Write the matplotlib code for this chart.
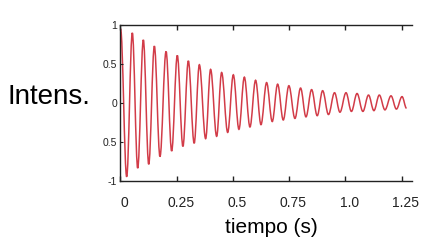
import numpy as np
import matplotlib.pyplot as plt
import matplotlib.transforms as mtransforms
from matplotlib.path import Path
from matplotlib.patches import PathPatch

plt.rcParams['font.family'] = ['Liberation Sans', 'DejaVu Sans']

# extrema of the damped oscillation (time in s, intensity)
t_ext = [0.001, 0.028, 0.053, 0.077, 0.102, 0.126, 0.151, 0.176, 0.203, 0.228,
         0.253, 0.278, 0.302, 0.328, 0.351, 0.379, 0.401, 0.428, 0.450, 0.477,
         0.502, 0.527, 0.551, 0.576, 0.601, 0.625, 0.650, 0.675, 0.699, 0.724,
         0.749, 0.776, 0.801, 0.825, 0.850, 0.875, 0.899, 0.925, 0.952, 0.976,
         1.003, 1.027, 1.052, 1.078, 1.103, 1.127, 1.151, 1.176, 1.203, 1.227,
         1.252, 1.272]
v_ext = [0.95, -0.95, 0.90, -0.84, 0.81, -0.79, 0.73, -0.69, 0.66, -0.62,
         0.61, -0.56, 0.54, -0.52, 0.49, -0.46, 0.43, -0.43, 0.39, -0.38,
         0.36, -0.34, 0.33, -0.31, 0.29, -0.28, 0.26, -0.24, 0.24, -0.22,
         0.22, -0.20, 0.19, -0.18, 0.17, -0.165, 0.156, -0.15, 0.13, -0.12,
         0.13, -0.11, 0.12, -0.11, 0.10, -0.10, 0.10, -0.09, 0.09, -0.08,
         0.08, -0.07]

x_ticks = [0, 0.25, 0.5, 0.75, 1.0, 1.25]
x_labels = ["0", "0.25", "0.5", "0.75", "1.0", "1.25"]
y_ticks = [1, 0.5, 0, -0.5, -1]
y_labels = ["1", "0.5", "0", "0.5", "-1"]

fig = plt.figure(figsize=(4.4, 2.47), dpi=100)
ax = fig.add_axes([0.2736, 0.2684, 0.6621, 0.6304])

# join the extrema with smooth bezier segments (flat tangent at each extremum)
verts = [(t_ext[0], v_ext[0])]
codes = [Path.MOVETO]
for i in range(1, len(t_ext)):
    t0, v0 = t_ext[i - 1], v_ext[i - 1]
    t1, v1 = t_ext[i], v_ext[i]
    d = 0.3634 * (t1 - t0)
    verts += [(t0 + d, v0), (t1 - d, v1), (t1, v1)]
    codes += [Path.CURVE4] * 3
ax.add_patch(PathPatch(Path(verts, codes), facecolor='none',
                       edgecolor='#d23c48', linewidth=1.1))

ax.set_xlim(0, 1.295)
ax.set_ylim(-1, 1)
ax.spines['right'].set_visible(False)
for s in ['left', 'top', 'bottom']:
    ax.spines[s].set_linewidth(1.0)
    ax.spines[s].set_color('#222222')

ax.set_xticks(x_ticks)
ax.set_xticklabels(x_labels, fontsize=10)
ax.set_yticks(y_ticks)
ax.set_yticklabels(y_labels, fontsize=7.5)
ax.tick_params(axis='x', direction='in', length=3.5, width=1, top=True,
               pad=11, colors='#222222')
ax.tick_params(axis='y', direction='in', length=2, width=0.8, pad=2.5,
               colors='#222222')

# tick labels in the reference sit a few pixels right of their ticks
shift = mtransforms.ScaledTranslation(4 / 100, 0, fig.dpi_scale_trans)
for lab in ax.get_xticklabels():
    lab.set_transform(lab.get_transform() + shift)

fig.text(271 / 440, 1 - 227 / 247, "tiempo (s)", fontsize=15,
         ha='center', va='center')
fig.text(8 / 440, 1 - 97.5 / 247, "Intens.", fontsize=20,
         ha='left', va='center')

fig.savefig('out.png', dpi=100)
